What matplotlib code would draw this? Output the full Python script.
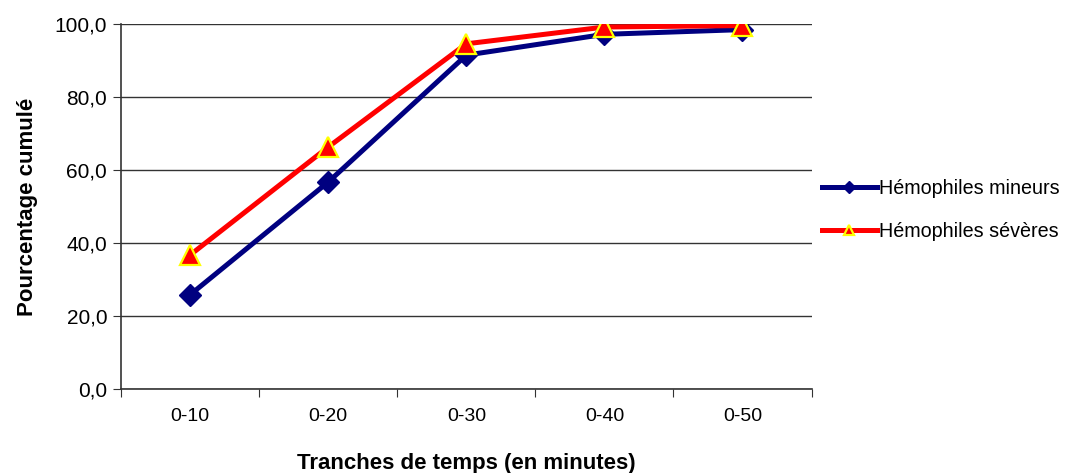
import matplotlib
matplotlib.use("Agg")
import matplotlib.pyplot as plt

categories = ["0-10", "0-20", "0-30", "0-40", "0-50"]
mineurs = [25.8, 56.7, 91.5, 97.2, 98.5]
severes = [36.7, 66.3, 94.6, 99.2, 99.6]
yticks = [0, 20, 40, 60, 80, 100]

plt.rcParams["font.family"] = ["Liberation Sans", "DejaVu Sans"]

fig = plt.figure(figsize=(10.72, 4.73), dpi=100)
ax = fig.add_axes([0.113, 0.178, 0.644, 0.771])

x = list(range(len(categories)))
ax.plot(x, mineurs, color="#000080", lw=3.6, marker="D", ms=11,
        mfc="#000080", mec="#000080", label="Hémophiles mineurs", zorder=3)
ax.plot(x, severes, color="#ff0000", lw=3.6, marker="^", ms=14,
        mfc="#ff0000", mec="#ffff00", mew=1.6, label="Hémophiles sévères", zorder=4)

ax.set_xlim(-0.5, len(categories) - 0.5)
ax.set_ylim(0, 100)
ax.set_yticks(yticks)
ax.set_yticklabels([f"{v:.1f}".replace(".", ",") for v in yticks], fontsize=15)
ax.set_xticks([i - 0.5 for i in range(len(categories) + 1)])
ax.set_xticklabels([])
ax.set_xticks(x, minor=True)
ax.set_xticklabels(categories, minor=True, fontsize=14)
ax.tick_params(axis="x", which="minor", length=0, pad=14)
ax.tick_params(axis="x", which="major", length=6, direction="out", color="#333333")
ax.tick_params(axis="y", length=6, direction="out", color="#333333", pad=4)

ax.grid(axis="y", color="#333333", lw=1)
ax.set_axisbelow(True)
for s in ["top", "right"]:
    ax.spines[s].set_visible(False)
ax.spines["left"].set_color("#333333")
ax.spines["bottom"].set_color("#333333")
ax.spines["left"].set_linewidth(1.2)
ax.spines["bottom"].set_linewidth(1.2)

ax.set_ylabel("Pourcentage cumulé", fontsize=16, fontweight="bold", labelpad=12)
ax.set_xlabel("Tranches de temps (en minutes)", fontsize=16, fontweight="bold", labelpad=20)

leg = ax.legend(loc="center left", bbox_to_anchor=(0.99, 0.49), frameon=False,
                fontsize=14.2, handlelength=2.75, handletextpad=0.1, labelspacing=1.2,
                markerscale=0.55)

fig.savefig("out.png", dpi=100, facecolor="white")
